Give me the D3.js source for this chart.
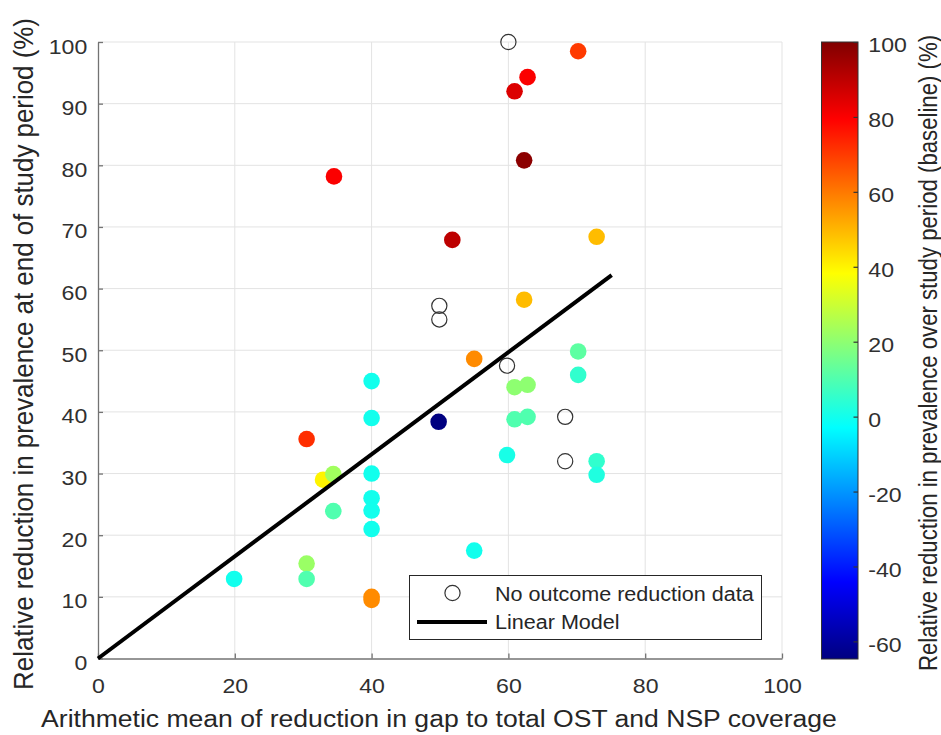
<!DOCTYPE html>
<html>
<head>
<meta charset="utf-8">
<script src="https://cdn.jsdelivr.net/npm/d3@7"></script>
<style>
  html, body { margin: 0; padding: 0; background: #fff; }
  svg text { font-family: "Liberation Sans", Arial, sans-serif; fill: #262626; }
</style>
</head>
<body>
<svg id="chart" width="941" height="735"></svg>
<script>
// Studies with outcome data: mean gap reduction, prevalence reduction, baseline change (colour)
const gapReduction = [34.5, 70.2, 62.8, 60.9, 62.3, 51.8, 72.9, 62.3, 55.0, 40.0, 40.0, 30.5,
  70.2, 70.2, 60.9, 62.8, 60.9, 62.8, 59.8, 72.9, 72.9, 55.0, 49.8, 40.0, 40.0, 40.0, 40.0,
  40.0, 40.0, 19.9, 32.9, 34.4, 34.4, 30.5, 30.5];
const prevalenceReduction = [78.2, 98.5, 94.3, 92.0, 80.8, 67.9, 68.4, 58.2, 48.6, 10.0, 9.5, 35.6,
  49.8, 46.0, 44.0, 44.4, 38.8, 39.2, 33.0, 32.0, 29.8, 17.5, 38.4, 45.0, 39.0, 30.0, 26.0,
  24.0, 21.0, 12.9, 29.0, 29.9, 23.9, 15.4, 12.9];
const baselineChange = [80, 70, 80, 85, 98, 90, 49, 49, 57, 57, 57, 72,
  12, 5, 20, 20, 10, 10, 1, 5, 2, 0, -64.7, 0, 0, 0, 0,
  0, 0, 0, 40, 23, 10, 22, 10];

// Studies without outcome reduction data
const noDataX = [60.0, 49.9, 49.9, 59.8, 68.3, 68.3];
const noDataY = [100.0, 57.2, 55.0, 47.5, 39.2, 32.0];

// Linear model through the origin
const fitSlope = 0.828;
const fitRange = [0, 75.1];

// Axis ticks and colour limits
const xTicks = [0, 20, 40, 60, 80, 100];
const yTicks = [0, 10, 20, 30, 40, 50, 60, 70, 80, 90, 100];
const colorLimits = [-64.7, 100];
const colorTicks = [-60, -40, -20, 0, 20, 40, 60, 80, 100];

const legendLabels = ["No outcome reduction data", "Linear Model"];
const xLabel = "Arithmetic mean of reduction in gap to total OST and NSP coverage";
const yLabel = "Relative reduction in prevalence at end of study period (%)";
const cLabel = "Relative reduction in prevalence over study period (baseline) (%)";

// MATLAB-style jet colormap
function jet(t) {
  const c = v => Math.max(0, Math.min(1, v));
  const r = c(Math.min(4 * t - 1.5, -4 * t + 4.5));
  const g = c(Math.min(4 * t - 0.5, -4 * t + 3.5));
  const b = c(Math.min(4 * t + 0.5, -4 * t + 2.5));
  return d3.rgb(r * 255, g * 255, b * 255).formatHex();
}

// Glyphs are drawn slightly wider than tall
const stretch = 1.1;

const svg = d3.select("#chart");
const plot = { left: 98, right: 782, top: 42, bottom: 658.5 };

const x = d3.scaleLinear().domain([0, 100]).range([plot.left, plot.right]);
const y = d3.scaleLinear().domain([0, 100]).range([plot.bottom, plot.top]);
const cNorm = d3.scaleLinear().domain(colorLimits).range([0, 1]).clamp(true);
const color = v => jet(cNorm(v));
const plain = d => String(d);

// Grid
const grid = svg.append("g");
grid.selectAll("line.gx").data(xTicks.slice(1)).join("line")
  .attr("x1", d => x(d)).attr("x2", d => x(d))
  .attr("y1", plot.top).attr("y2", plot.bottom)
  .attr("stroke", "#e3e3e3").attr("stroke-width", 1);
grid.selectAll("line.gy").data(yTicks.slice(1)).join("line")
  .attr("x1", plot.left).attr("x2", plot.right)
  .attr("y1", d => y(d)).attr("y2", d => y(d))
  .attr("stroke", "#e3e3e3").attr("stroke-width", 1);

// Axes (ticks point inward)
const xAxis = d3.axisBottom(x).tickValues(xTicks).tickFormat(plain).tickSizeInner(-5).tickSizeOuter(0);
const yAxis = d3.axisLeft(y).tickValues(yTicks).tickFormat(plain).tickSizeInner(-5).tickSizeOuter(0);

const gx = svg.append("g").attr("transform", `translate(0,${plot.bottom})`).call(xAxis);
const gy = svg.append("g").attr("transform", `translate(${plot.left},0)`).call(yAxis);
[gx, gy].forEach(g => {
  g.select(".domain").attr("stroke", "#737373").attr("stroke-width", 1.3);
  g.selectAll(".tick line").attr("stroke", "#737373").attr("stroke-width", 1.3);
  g.selectAll(".tick text").attr("font-size", 21).style("fill", "#303030")
    .attr("x", 0).attr("y", 0).attr("dy", null);
});
gx.selectAll(".tick text").attr("transform", `translate(0,34.5) scale(${stretch},1)`);
gy.selectAll(".tick text").attr("transform", `translate(-10.7,11) scale(${stretch},1)`);

// Points without outcome data
svg.append("g").selectAll("circle").data(noDataX.map((d, i) => [d, noDataY[i]])).join("circle")
  .attr("cx", d => x(d[0])).attr("cy", d => y(d[1])).attr("r", 7.6)
  .attr("fill", "none").attr("stroke", "#333").attr("stroke-width", 1.2);

// Coloured points
const pts = gapReduction.map((d, i) => ({ x: d, y: prevalenceReduction[i], c: baselineChange[i] }));
svg.append("g").selectAll("circle").data(pts).join("circle")
  .attr("cx", d => x(d.x)).attr("cy", d => y(d.y)).attr("r", 8.3)
  .attr("fill", d => color(d.c));

// Linear model
svg.append("line")
  .attr("x1", x(fitRange[0])).attr("y1", y(fitSlope * fitRange[0]))
  .attr("x2", x(fitRange[1])).attr("y2", y(fitSlope * fitRange[1]))
  .attr("stroke", "#000").attr("stroke-width", 4);

// Legend
const lg = svg.append("g");
lg.append("rect").attr("x", 409.5).attr("y", 575.5).attr("width", 352).attr("height", 64)
  .attr("fill", "#fff").attr("stroke", "#262626").attr("stroke-width", 1);
lg.append("circle").attr("cx", 452.5).attr("cy", 593).attr("r", 7.6)
  .attr("fill", "none").attr("stroke", "#333").attr("stroke-width", 1.2);
lg.append("line").attr("x1", 417).attr("x2", 487).attr("y1", 622).attr("y2", 622)
  .attr("stroke", "#000").attr("stroke-width", 4);
lg.selectAll("text").data(legendLabels).join("text")
  .attr("transform", (d, i) => `translate(495,${600.7 + i * 28.6}) scale(${stretch},1)`)
  .attr("font-size", 19.6).text(d => d);

// Colorbar
const cb = { left: 821.5, right: 858, top: 42, bottom: 659 };
const defs = svg.append("defs");
const grad = defs.append("linearGradient").attr("id", "jetGrad")
  .attr("x1", 0).attr("y1", 1).attr("x2", 0).attr("y2", 0);
d3.range(0, 1.0001, 0.0625).forEach(t => {
  grad.append("stop").attr("offset", t).attr("stop-color", jet(t));
});
svg.append("rect").attr("x", cb.left).attr("y", cb.top)
  .attr("width", cb.right - cb.left).attr("height", cb.bottom - cb.top)
  .attr("fill", "url(#jetGrad)").attr("stroke", "#333").attr("stroke-width", 1);
const cy = d3.scaleLinear().domain(colorLimits).range([cb.bottom, cb.top]);
const cAxis = d3.axisRight(cy).tickValues(colorTicks).tickFormat(plain).tickSizeInner(-4.5).tickSizeOuter(0);
const gc = svg.append("g").attr("transform", `translate(${cb.right},0)`).call(cAxis);
gc.select(".domain").remove();
gc.selectAll(".tick line").attr("stroke", "#333").attr("stroke-width", 1.2);
gc.selectAll(".tick text").attr("font-size", 21).style("fill", "#303030")
  .attr("x", 0).attr("y", 0).attr("dy", null)
  .attr("transform", `translate(10.3,9.8) scale(${stretch},1)`);

// Axis labels
svg.append("text").attr("transform", `translate(439,727.3) scale(1.135,1)`)
  .attr("text-anchor", "middle").attr("font-size", 23.4).text(xLabel);
svg.append("text").attr("transform", `translate(33.3,354) rotate(-90) scale(1,1.08)`)
  .attr("text-anchor", "middle").attr("font-size", 25.9).text(yLabel);
svg.append("text").attr("transform", `translate(936.5,353) rotate(-90) scale(1,1.12)`)
  .attr("text-anchor", "middle").attr("font-size", 22.2).text(cLabel);
</script>
</body>
</html>
